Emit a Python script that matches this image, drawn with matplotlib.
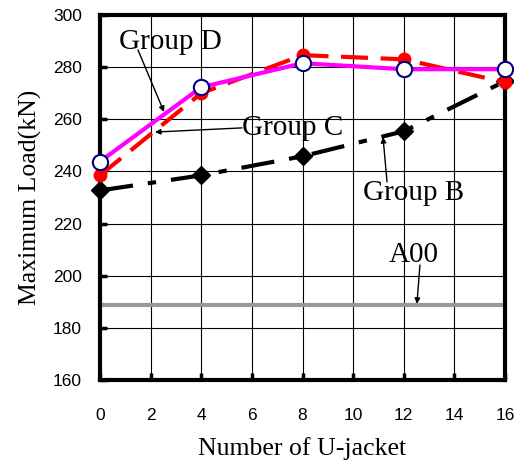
import matplotlib
matplotlib.use("Agg")
import matplotlib.pyplot as plt

# number of U-jackets
n_jacket = [0, 4, 8, 12, 16]

# maximum load (kN)
group_b = [232.7, 238.5, 245.8, 255.4, 274.6]
group_c = [238.5, 270.0, 284.6, 283.0, 274.2]
group_d = [243.8, 272.3, 281.5, 279.2, 279.2]
a00 = 188.8

serif = ['Liberation Serif', 'DejaVu Serif']
sans = ['Liberation Sans', 'DejaVu Sans']

fig = plt.figure(figsize=(5.14, 4.66), dpi=100)
ax = fig.add_axes([100/514, 86/466, 405/514, 365/466])

ax.axhline(a00, color='#999999', lw=3, zorder=2)

ax.plot(n_jacket, group_b, color='black', lw=3, dashes=(8, 3.6, 2, 3.6),
        marker='D', ms=9, mfc='black', mec='black', zorder=3, clip_on=False)
ax.plot(n_jacket, group_c, color='red', lw=3, dashes=(6.5, 3),
        marker='o', ms=9, mfc='red', mec='red', zorder=4, clip_on=False)
ax.plot(n_jacket, group_d, color='magenta', lw=3, marker='o', ms=11,
        mfc='white', mec='navy', mew=1.5, zorder=5, clip_on=False)

ax.set_xlim(0, 16)
ax.set_ylim(160, 300)
ax.set_xticks(range(0, 17, 2))
ax.set_yticks(range(160, 301, 20))
ax.grid(True, color='black', lw=0.8)
ax.set_axisbelow(True)

for s in ax.spines.values():
    s.set_linewidth(3)
ax.tick_params(direction='in', length=5, width=2.5, pad=13)
ax.tick_params(axis='x', pad=20)
for lab in ax.get_xticklabels() + ax.get_yticklabels():
    lab.set_family(sans)
    lab.set_fontsize(12.5)

ax.set_xlabel('Number of U-jacket', family=serif, fontsize=18.5, labelpad=10)
ax.set_ylabel('Maximum Load(kN)', family=serif, fontsize=18.5, labelpad=8)

arr = dict(arrowstyle='-|>', color='black', lw=1, mutation_scale=8,
           shrinkA=0, shrinkB=0)
ax.annotate('', xy=(2.53, 262.8), xytext=(1.50, 286.6), arrowprops=arr)
ax.text(2.77, 289.6, 'Group D', family=serif, fontsize=21, ha='center', va='center')
ax.annotate('', xy=(2.17, 255.1), xytext=(5.61, 256.7), arrowprops=arr)
ax.text(7.62, 256.7, 'Group C', family=serif, fontsize=21, ha='center', va='center')
ax.annotate('', xy=(11.18, 253.2), xytext=(11.34, 236.0), arrowprops=arr)
ax.text(12.37, 231.7, 'Group B', family=serif, fontsize=21, ha='center', va='center')
ax.annotate('', xy=(12.52, 189.2), xytext=(12.64, 204.1), arrowprops=arr)
ax.text(12.4, 208.0, 'A00', family=serif, fontsize=21, ha='center', va='center')

plt.savefig('out.png', dpi=100)
